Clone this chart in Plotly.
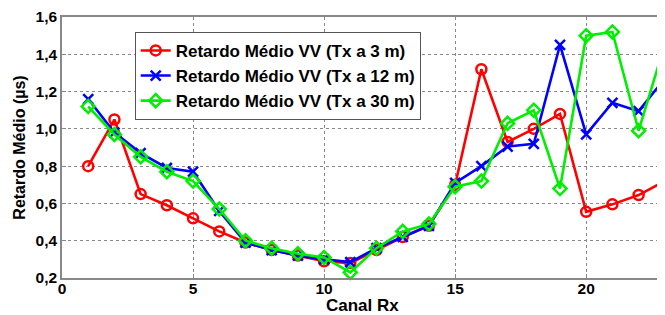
import plotly.graph_objects as go

canal = list(range(1, 24))
tx3 = [0.80, 1.05, 0.65, 0.59, 0.52, 0.45, 0.39, 0.35, 0.32, 0.29, 0.28, 0.35,
       0.42, 0.48, 0.70, 1.32, 0.93, 1.00, 1.08, 0.555, 0.595, 0.645, 0.72]
tx12 = [1.16, 0.98, 0.87, 0.79, 0.77, 0.56, 0.39, 0.35, 0.32, 0.30, 0.285, 0.36,
        0.42, 0.48, 0.71, 0.80, 0.905, 0.92, 1.45, 0.97, 1.14, 1.095, 1.27]
tx30 = [1.12, 0.97, 0.85, 0.77, 0.72, 0.57, 0.40, 0.36, 0.33, 0.31, 0.23, 0.36,
        0.45, 0.49, 0.69, 0.72, 1.03, 1.10, 0.68, 1.50, 1.52, 0.99, 1.455]
names = ["Retardo Médio VV (Tx a 3 m)", "Retardo Médio VV (Tx a 12 m)",
         "Retardo Médio VV (Tx a 30 m)"]
y_ticks = [0.2, 0.4, 0.6, 0.8, 1.0, 1.2, 1.4, 1.6]
x_ticks = [0, 5, 10, 15, 20]
x_title = "Canal Rx"
y_title = "Retardo Médio (µs)"

font = "Liberation Sans, Arial, sans-serif"
fig = go.Figure()
styles = [("#ff0000", "circle-open"), ("#0000ff", "x-thin-open"), ("#00ee00", "diamond-open")]
for vals, name, (col, sym) in zip([tx3, tx12, tx30], names, styles):
    fig.add_trace(go.Scatter(
        x=canal, y=vals, name="<b>" + name + "</b>", mode="lines+markers",
        line=dict(color=col, width=2.6), cliponaxis=False,
        marker=dict(symbol=sym, size=10, color=col, line=dict(color=col, width=2.5)),
    ))

fig.update_layout(
    width=657, height=307,
    margin=dict(l=54, r=0, t=8, b=37),
    paper_bgcolor="white", plot_bgcolor="white",
    separators=", ",
    font=dict(family=font, size=15, color="black"),
    showlegend=True,
    legend=dict(
        x=0.121, y=0.943, xanchor="left", yanchor="top",
        bgcolor="white", bordercolor="#555555", borderwidth=1,
        font=dict(family=font, size=17, color="black"),
        tracegroupgap=0, itemwidth=30,
    ),
    annotations=[dict(
        text="<b>" + x_title + "</b>", xref="paper", yref="paper",
        x=0.5, y=-0.107, xanchor="center", yanchor="middle", showarrow=False,
        font=dict(family=font, size=17, color="black"),
    )],
)
fig.update_xaxes(
    range=[0, 22.93], tickvals=x_ticks, ticktext=[f"<b>{v}</b>" for v in x_ticks],
    tickfont=dict(family=font, size=15.5, color="black"), ticklabeloverflow="allow",
    ticklabelstandoff=-4,
    showgrid=True, gridcolor="#888888", griddash="dot", gridwidth=1,
    showline=True, linecolor="#888888", linewidth=1.5, mirror=True,
    ticks="inside", ticklen=4, tickcolor="#888888", zeroline=False,
)
fig.update_yaxes(
    range=[0.1999, 1.6001], tickvals=y_ticks,
    ticktext=["<b>" + f"{v:.1f}".replace(".", ",") + "</b>" for v in y_ticks],
    tickfont=dict(family=font, size=15.5, color="black"), ticklabeloverflow="allow",
    title=dict(text="<b>" + y_title + "</b>", standoff=6, font=dict(size=16)),
    showgrid=True, gridcolor="#888888", griddash="dot", gridwidth=1,
    showline=True, linecolor="#888888", linewidth=1.5, mirror=True,
    ticks="inside", ticklen=4, tickcolor="#888888", zeroline=False,
)
fig.write_html("out.html")
